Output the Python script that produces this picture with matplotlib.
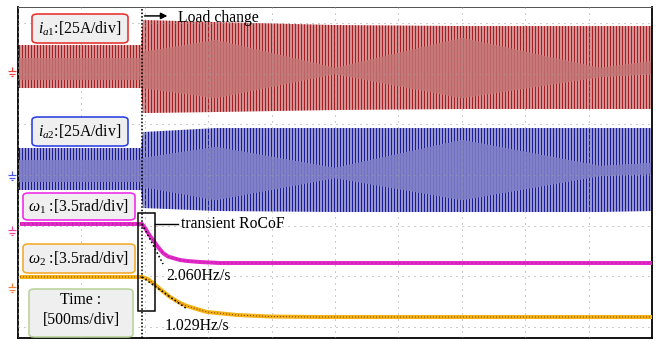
import numpy as np
import matplotlib
matplotlib.use("Agg")
import matplotlib.pyplot as plt
from matplotlib.patches import FancyBboxPatch, Rectangle
from matplotlib.path import Path
from matplotlib.transforms import blended_transform_factory

plt.rcParams['font.family'] = ['Liberation Serif', 'DejaVu Serif']
plt.rcParams['mathtext.fontset'] = 'custom'
plt.rcParams['mathtext.rm'] = 'Liberation Serif'
plt.rcParams['mathtext.it'] = 'Liberation Serif:italic'
plt.rcParams['hatch.linewidth'] = 1.8

# ---------------- data (time in s, amplitude in divisions) ----------------
t_env = [0.0, 0.970, 0.986, 1.560, 2.500, 3.502, 4.590, 5.0]
ia1_outer_hi = [5.565, 5.565, 6.059, 6.019, 5.960, 5.940, 5.940, 5.940]
ia1_outer_lo = [4.717, 4.717, 4.223, 4.243, 4.283, 4.302, 4.302, 4.302]
ia1_inner_hi = [5.308, 5.308, 5.427, 5.664, 5.111, 5.704, 5.111, 5.249]
ia1_inner_lo = [4.874, 4.874, 4.717, 4.519, 4.993, 4.519, 4.933, 4.993]

ia2_outer_hi = [3.533, 3.533, 3.848, 3.927, 3.927, 3.927, 3.927, 3.927]
ia2_outer_lo = [2.704, 2.704, 2.349, 2.290, 2.270, 2.270, 2.270, 2.290]
ia2_inner_hi = [3.296, 3.296, 3.335, 3.552, 3.138, 3.691, 3.177, 3.237]
ia2_inner_lo = [2.862, 2.862, 2.763, 2.506, 2.941, 2.506, 2.980, 3.020]

t_w1 = [0.016, 0.978, 1.002, 1.041, 1.065, 1.104, 1.144, 1.183, 1.222, 1.278,
        1.333, 1.435, 1.593, 2.0, 5.0]
w1 = [2.033, 2.033, 1.954, 1.796, 1.717, 1.579, 1.460, 1.391, 1.362, 1.322,
      1.303, 1.283, 1.263, 1.263, 1.263]

t_w2 = [0.016, 0.978, 1.025, 1.065, 1.120, 1.199, 1.278, 1.333, 1.435, 1.491,
        1.727, 1.987, 2.382, 5.0]
w2 = [0.987, 0.987, 0.947, 0.868, 0.750, 0.592, 0.474, 0.414, 0.336, 0.296,
      0.237, 0.207, 0.197, 0.197]

t_load = 0.978
rocof1_t = [0.978, 1.144]
rocof1_y = [2.033, 1.243]
rocof2_t = [0.978, 1.333]
rocof2_y = [0.987, 0.355]
ground_levels = [5.05, 3.00, 1.91, 0.79]
ground_colors = ['#e8403a', '#4a5ae0', '#f040a0', '#f08040']

# ---------------- figure ----------------
W, H = 663, 341
DPI = 72
fig = plt.figure(figsize=(W / DPI, H / DPI), dpi=DPI)
ax = fig.add_axes([18 / W, 1 - 338 / H, (652 - 18) / W, (338 - 7) / H])
ax.set_xlim(0, 5.0)
ax.set_ylim(-0.217, 6.316)


def band(hi, lo, face, hatch_col, z):
    ax.fill_between(t_env, lo, hi, facecolor=face, edgecolor=hatch_col,
                    hatch='||||', linewidth=0, zorder=z)


band(ia1_outer_hi, ia1_outer_lo, '#f6dede', '#a31e22', 1)
band(ia1_inner_hi, ia1_inner_lo, '#cf8686', '#bd6668', 1.1)
band(ia2_outer_hi, ia2_outer_lo, '#e4e4f6', '#1c1c96', 1)
band(ia2_inner_hi, ia2_inner_lo, '#8a8ad0', '#7272c0', 1.1)

# grid
ax.set_xticks(np.arange(0, 5.01, 0.5))
ax.set_yticks(np.arange(0, 6.5, 1))
ax.tick_params(length=0, labelbottom=False, labelleft=False)
ax.set_axisbelow(False)
ax.grid(True, color='#9a9a9a', linestyle=(0, (1, 5)), linewidth=1.0)

# omega traces
ax.plot(t_w1, w1, color='#e228c8', lw=4, zorder=3, solid_capstyle='butt')
ax.plot(t_w1, w1, color='#a01a80', lw=1, ls=(0, (1, 3)), zorder=3.1)
ax.plot(t_w2, w2, color='#f2b214', lw=4, zorder=3, solid_capstyle='butt')
ax.plot(t_w2, w2, color='#8a3a00', lw=1, ls=(0, (1, 2)), zorder=3.1)

# load change line and arrow
ax.axvline(t_load, color='black', lw=1.6, ls=(0, (1, 1.2)), zorder=4)
ax.annotate('', xy=(1.178, 6.14), xytext=(0.998, 6.14),
            arrowprops=dict(arrowstyle='-|>', color='black', lw=1.5,
                            mutation_scale=13, shrinkA=0, shrinkB=0), zorder=5)
ax.text(1.262, 6.10, 'Load change', fontsize=15.7, ha='left', va='center', zorder=5)

# RoCoF annotations
ax.plot(rocof1_t, rocof1_y, color='black', lw=1.6, ls=(0, (1, 1.5)), zorder=4)
ax.plot(rocof2_t, rocof2_y, color='black', lw=1.6, ls=(0, (1, 1.5)), zorder=4)
ax.add_patch(Rectangle((0.946, 0.316), 0.134, 1.934, fill=False,
                       ec='black', lw=1.5, zorder=5))
ax.plot([1.080, 1.262], [2.033, 2.033], color='black', lw=1.4, zorder=5)
ax.text(1.287, 2.033, 'transient RoCoF', fontsize=15.7, ha='left', va='center', zorder=5)
ax.text(1.167, 1.00, '2.060Hz/s', fontsize=15.7, ha='left', va='center', zorder=5)
ax.text(1.159, 0.02, '1.029Hz/s', fontsize=15.7, ha='left', va='center', zorder=5)

# spines
for s in ['left', 'right', 'bottom']:
    ax.spines[s].set_color('black')
    ax.spines[s].set_linewidth(1.8)
ax.spines['top'].set_color('#555555')
ax.spines['top'].set_linewidth(1.0)

# ground markers
gpath = Path([(0, 0.6), (0, 0), (-0.6, 0), (0.6, 0), (-0.4, -0.35), (0.4, -0.35),
              (-0.2, -0.7), (0.2, -0.7)],
             [Path.MOVETO, Path.LINETO, Path.MOVETO, Path.LINETO,
              Path.MOVETO, Path.LINETO, Path.MOVETO, Path.LINETO])
btr = blended_transform_factory(fig.transFigure, ax.transData)
for lvl, c in zip(ground_levels, ground_colors):
    ax.plot([12 / W], [lvl], marker=gpath, markersize=10, color=c, mew=1.2,
            transform=btr, clip_on=False, ls='none')


# label boxes
def label_box(x0, y0, x1, y1, ec, text, cy=None, ls=1.2):
    box = FancyBboxPatch((x0 / W, 1 - y1 / H), (x1 - x0) / W, (y1 - y0) / H,
                         boxstyle='round,pad=0,rounding_size=0.009',
                         transform=fig.transFigure, fc='#efefef', ec=ec, lw=1.6,
                         zorder=6)
    fig.patches.append(box)
    if cy is None:
        cy = (y0 + y1) / 2
    fig.text((x0 + x1) / 2 / W, 1 - cy / H, text, fontsize=15.7, ha='center',
             va='center', linespacing=ls, zorder=7)


label_box(32, 14, 128, 43, '#e8302c', r'$i_{a1}$:[25A/div]', cy=28.5)
label_box(32, 117, 128, 146, '#2a3ee0', r'$i_{a2}$:[25A/div]', cy=131.5)
label_box(23, 193, 135, 220, '#f028e8', r'$\omega_1$ :[3.5rad/div]', cy=206.5)
label_box(23, 244, 135, 273, '#f5aa28', r'$\omega_2$ :[3.5rad/div]', cy=258.5)
label_box(29, 289, 133, 337, '#b8d29a', 'Time :\n[500ms/div]', cy=310, ls=1.35)

fig.savefig('out.png', dpi=DPI)
